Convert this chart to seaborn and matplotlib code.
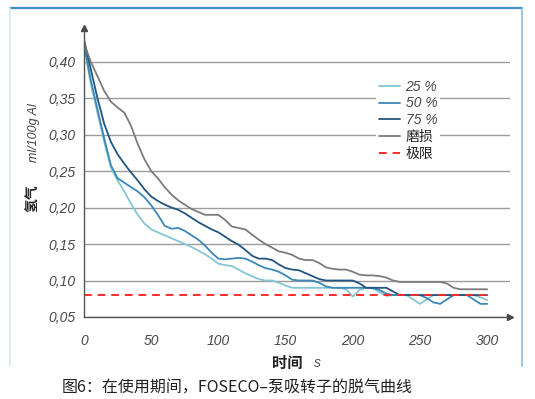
import numpy as np
import pandas as pd
import matplotlib.pyplot as plt
import seaborn as sns
from matplotlib.lines import Line2D

# time axis (s) and hydrogen content (ml/100g Al)
time_s = list(range(0, 305, 5))

h2_25 = [0.42, 0.37, 0.33, 0.29, 0.255, 0.237, 0.222, 0.205, 0.19, 0.178,
         0.17, 0.166, 0.162, 0.158, 0.154, 0.15, 0.146, 0.141, 0.136, 0.13,
         0.123, 0.121, 0.12, 0.115, 0.11, 0.106, 0.102, 0.1, 0.1, 0.097,
         0.093, 0.09, 0.09, 0.09, 0.09, 0.09, 0.09, 0.09, 0.09, 0.088,
         0.078, 0.087, 0.09, 0.089, 0.084, 0.079, 0.08, 0.08, 0.08, 0.074,
         0.068, 0.074, 0.08, 0.08, 0.08, 0.08, 0.08, 0.08, 0.08, 0.077, 0.073]

h2_50 = [0.425, 0.375, 0.335, 0.295, 0.258, 0.24, 0.234, 0.228, 0.222, 0.214,
         0.203, 0.19, 0.175, 0.171, 0.172, 0.168, 0.162, 0.156, 0.148, 0.138,
         0.13, 0.129, 0.13, 0.131, 0.13, 0.126, 0.121, 0.117, 0.115, 0.112,
         0.107, 0.101, 0.1, 0.1, 0.1, 0.097, 0.092, 0.09, 0.09, 0.09,
         0.09, 0.09, 0.09, 0.09, 0.087, 0.082, 0.08, 0.08, 0.08, 0.08,
         0.08, 0.076, 0.07, 0.068, 0.074, 0.08, 0.08, 0.08, 0.074, 0.068, 0.068]

h2_75 = [0.43, 0.39, 0.35, 0.315, 0.29, 0.273, 0.26, 0.248, 0.237, 0.225,
         0.215, 0.209, 0.204, 0.2, 0.197, 0.192, 0.186, 0.18, 0.175, 0.17,
         0.166, 0.16, 0.154, 0.149, 0.142, 0.134, 0.13, 0.13, 0.128, 0.122,
         0.117, 0.115, 0.114, 0.11, 0.106, 0.102, 0.1, 0.1, 0.1, 0.1,
         0.1, 0.096, 0.09, 0.09, 0.09, 0.09, 0.085, 0.08, 0.08, 0.08,
         0.08, 0.08, 0.08, 0.08, 0.08, 0.08, 0.08, 0.08, 0.08, 0.08, 0.08]

h2_wear = [0.425, 0.4, 0.38, 0.36, 0.345, 0.337, 0.33, 0.312, 0.287, 0.266,
           0.25, 0.24, 0.228, 0.218, 0.21, 0.204, 0.198, 0.194, 0.19, 0.19,
           0.19, 0.183, 0.174, 0.172, 0.17, 0.163, 0.156, 0.15, 0.145, 0.14,
           0.138, 0.135, 0.13, 0.128, 0.128, 0.124, 0.118, 0.116, 0.115, 0.115,
           0.112, 0.108, 0.107, 0.107, 0.106, 0.104, 0.1, 0.098, 0.098, 0.098,
           0.098, 0.098, 0.098, 0.098, 0.096, 0.09, 0.088, 0.088, 0.088, 0.088, 0.088]

limit_value = 0.08

labels = ["25 %", "50 %", "75 %", "磨损"]
colors = ["#86c5d3", "#3b87b6", "#23557e", "#7c7c7c"]
x_ticks = [0, 50, 100, 150, 200, 250, 300]
y_ticks = [0.05, 0.10, 0.15, 0.20, 0.25, 0.30, 0.35, 0.40]

sns.set_style("white")
plt.rcParams['font.family'] = ['Noto Sans CJK SC', 'DejaVu Sans']

fig = plt.figure(figsize=(5.35, 3.99), dpi=100)
ax = fig.add_axes([84 / 535, 1 - 317 / 399, 426 / 535, 289 / 399])

for lab, col, vals in zip(labels, colors, [h2_25, h2_50, h2_75, h2_wear]):
    sns.lineplot(x=time_s, y=vals, ax=ax, color=col, lw=1.3, label=lab)

sns.lineplot(x=time_s, y=[limit_value] * len(time_s), ax=ax, color="#ff2b2b",
             lw=1.4, label="极限", dashes=False, linestyle=(0, (4, 3)))

ax.set_xlim(0, 317)
ax.set_ylim(0.05, 0.446)
ax.set_xticks(x_ticks)
ax.set_yticks(y_ticks)
ax.set_yticklabels([f"{v:.2f}".replace(".", ",") for v in y_ticks])
for lbl in ax.get_xticklabels() + ax.get_yticklabels():
    lbl.set_family("Liberation Sans")
    lbl.set_fontstyle("italic")
    lbl.set_fontsize(10)
    lbl.set_color("#4a4a4a")
ax.tick_params(axis="x", length=4, width=0.8, color="#555555", pad=8)
ax.tick_params(axis="y", length=0, pad=6)

ax.grid(axis="y", color="#9c9c9c", lw=1)
ax.set_axisbelow(True)
for s in ["top", "right"]:
    ax.spines[s].set_visible(False)
for s in ["left", "bottom"]:
    ax.spines[s].set_color("#555555")
    ax.spines[s].set_linewidth(1)
ax.plot(1, 0, ">", color="#444444", ms=4, transform=ax.transAxes, clip_on=False)
ax.plot(0, 1, "^", color="#444444", ms=4, transform=ax.transAxes, clip_on=False)

ax.set_xlabel("")
ax.set_ylabel("")

leg = ax.legend(loc="upper left", bbox_to_anchor=(0.67, 0.855), frameon=True,
                facecolor="white", edgecolor="none", framealpha=1,
                handlelength=1.5, handletextpad=0.4, labelspacing=0.2,
                borderpad=0.2, fontsize=10)
for txt in leg.get_texts():
    if "%" in txt.get_text():
        txt.set_family("Liberation Sans")
        txt.set_fontstyle("italic")
        txt.set_color("#4a4a4a")
    else:
        txt.set_color("#222222")

# axis titles
fig.text(33 / 535, 1 - 198 / 399, "氢气", rotation=90, ha="center", va="center",
         fontsize=10, fontweight="bold", color="#222222")
fig.text(34 / 535, 1 - 133 / 399, "ml/100g Al", rotation=90, ha="center", va="center",
         fontsize=9, fontstyle="italic", family="Liberation Sans", color="#444444")
fig.text(287 / 535, 1 - 363 / 399, "时间", ha="center", va="center",
         fontsize=11, fontweight="bold", color="#222222")
fig.text(317 / 535, 1 - 363 / 399, "s", ha="center", va="center",
         fontsize=10, fontstyle="italic", family="Liberation Sans", color="#555555")

# caption
fig.text(62 / 535, 1 - 388 / 399, "图6：在使用期间，FOSECO–泵吸转子的脱气曲线",
         ha="left", va="center", fontsize=11.5, color="#222222")

# frame around chart
fig.add_artist(Line2D([10 / 535, 522 / 535], [1 - 8 / 399, 1 - 8 / 399],
                      transform=fig.transFigure, color="#3f8fc4", lw=1.6))
fig.add_artist(Line2D([522 / 535, 522 / 535], [1 - 8 / 399, 1 - 366 / 399],
                      transform=fig.transFigure, color="#8cc0de", lw=1.2))
fig.add_artist(Line2D([10 / 535, 10 / 535], [1 - 8 / 399, 1 - 366 / 399],
                      transform=fig.transFigure, color="#d3e6f1", lw=1.2))

fig.savefig("out.png", dpi=100)
